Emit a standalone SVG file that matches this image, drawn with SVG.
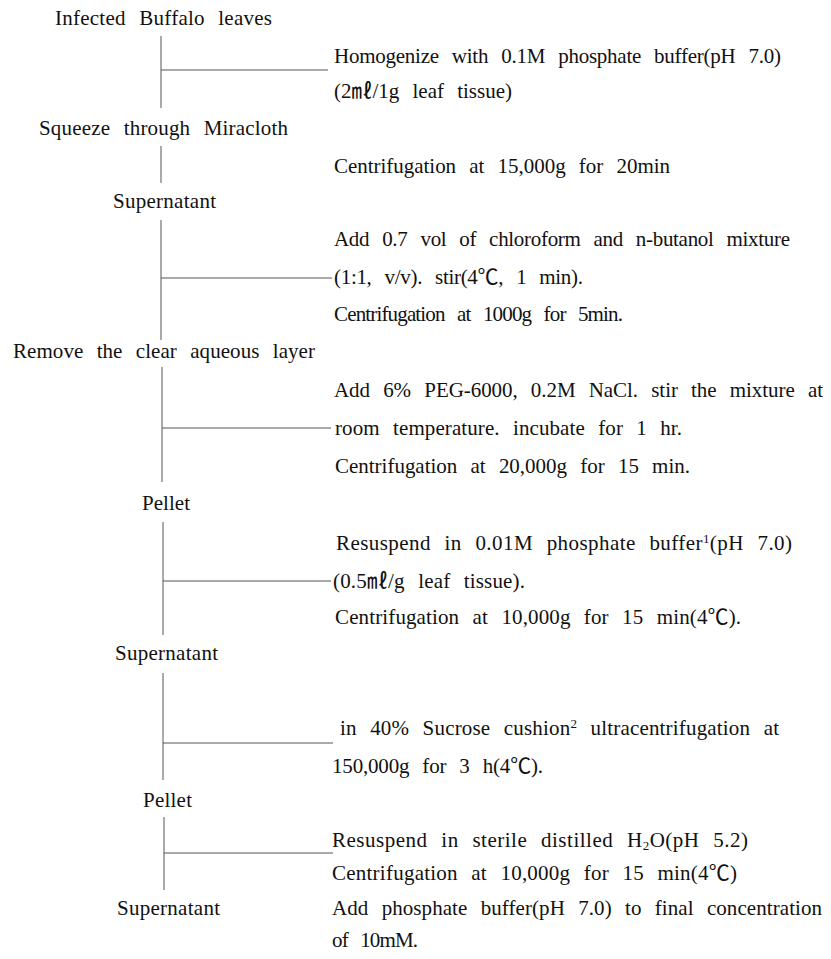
<svg xmlns="http://www.w3.org/2000/svg" width="831" height="959" viewBox="0 0 831 959">
<style>
text{font-family:"Liberation Serif","Noto Sans CJK KR",serif;font-size:21px;fill:#111;word-spacing:8px}
.ln{stroke:#555;stroke-width:1;fill:none}
.sup{font-size:13px}
</style>
<rect width="831" height="959" fill="#fff"/>
<g id="connectors">
<line class="ln" x1="161" y1="36" x2="161" y2="108"/>
<line class="ln" x1="161" y1="146" x2="161" y2="183"/>
<line class="ln" x1="161" y1="220" x2="161" y2="340"/>
<line class="ln" x1="162" y1="367" x2="162" y2="482"/>
<line class="ln" x1="163" y1="522" x2="163" y2="635"/>
<line class="ln" x1="163" y1="673" x2="163" y2="780"/>
<line class="ln" x1="164" y1="817" x2="164" y2="890"/>
<line class="ln" x1="161" y1="70" x2="328" y2="70"/>
<line class="ln" x1="161" y1="278" x2="332" y2="278"/>
<line class="ln" x1="162" y1="428" x2="331" y2="428"/>
<line class="ln" x1="163" y1="581" x2="331" y2="581"/>
<line class="ln" x1="163" y1="743" x2="333" y2="743"/>
<line class="ln" x1="164" y1="853" x2="333" y2="853"/>
</g>
<g id="n-infected"><text x="55" y="25" textLength="217" lengthAdjust="spacing">Infected Buffalo leaves</text></g>
<g id="n-homogenize">
<text x="334" y="63" textLength="447" lengthAdjust="spacing">Homogenize with 0.1M phosphate buffer(pH 7.0)</text>
<text x="334" y="98" textLength="178" lengthAdjust="spacing">(2㎖/1g leaf tissue)</text>
</g>
<g id="n-squeeze"><text x="39" y="135" textLength="249" lengthAdjust="spacing">Squeeze through Miracloth</text></g>
<g id="n-centrif1"><text x="334" y="173" textLength="336" lengthAdjust="spacing">Centrifugation at 15,000g for 20min</text></g>
<g id="n-supernatant1"><text x="113" y="208" textLength="103" lengthAdjust="spacing">Supernatant</text></g>
<g id="n-chloroform">
<text x="334" y="246" textLength="456" lengthAdjust="spacing">Add 0.7 vol of chloroform and n-butanol mixture</text>
<text x="334" y="284" textLength="249" lengthAdjust="spacing">(1:1, v/v). stir(4℃, 1 min).</text>
<text x="334" y="321" textLength="289" lengthAdjust="spacing">Centrifugation at 1000g for 5min.</text>
</g>
<g id="n-remove"><text x="13" y="358" textLength="302" lengthAdjust="spacing">Remove the clear aqueous layer</text></g>
<g id="n-peg">
<text x="334" y="397" textLength="489" lengthAdjust="spacing">Add 6% PEG-6000, 0.2M NaCl. stir the mixture at</text>
<text x="335" y="435" textLength="347" lengthAdjust="spacing">room temperature. incubate for 1 hr.</text>
<text x="335" y="473" textLength="355" lengthAdjust="spacing">Centrifugation at 20,000g for 15 min.</text>
</g>
<g id="n-pellet1"><text x="142" y="510" textLength="48" lengthAdjust="spacing">Pellet</text></g>
<g id="n-resuspend1">
<text x="336" y="550" textLength="456" lengthAdjust="spacing">Resuspend in 0.01M phosphate buffer<tspan class="sup" baseline-shift="super">1</tspan>(pH 7.0)</text>
<text x="333" y="588" textLength="192" lengthAdjust="spacing">(0.5㎖/g leaf tissue).</text>
<text x="335" y="624" textLength="406" lengthAdjust="spacing">Centrifugation at 10,000g for 15 min(4℃).</text>
</g>
<g id="n-supernatant2"><text x="115" y="660" textLength="103" lengthAdjust="spacing">Supernatant</text></g>
<g id="n-sucrose">
<text x="340" y="735" textLength="439" lengthAdjust="spacing">in 40% Sucrose cushion<tspan class="sup" baseline-shift="super">2</tspan> ultracentrifugation at</text>
<text x="332" y="773" textLength="211" lengthAdjust="spacing">150,000g for 3 h(4℃).</text>
</g>
<g id="n-pellet2"><text x="143" y="807" textLength="49" lengthAdjust="spacing">Pellet</text></g>
<g id="n-resuspend2">
<text x="332" y="847" textLength="416" lengthAdjust="spacing">Resuspend in sterile distilled H<tspan class="sup" baseline-shift="-3">2</tspan>O(pH 5.2)</text>
<text x="332" y="880" textLength="405" lengthAdjust="spacing">Centrifugation at 10,000g for 15 min(4℃)</text>
<text x="332" y="915" textLength="490" lengthAdjust="spacing">Add phosphate buffer(pH 7.0) to final concentration</text>
<text x="332" y="947" textLength="86" lengthAdjust="spacing">of 10mM.</text>
</g>
<g id="n-supernatant3"><text x="117" y="915" textLength="103" lengthAdjust="spacing">Supernatant</text></g>
</svg>
